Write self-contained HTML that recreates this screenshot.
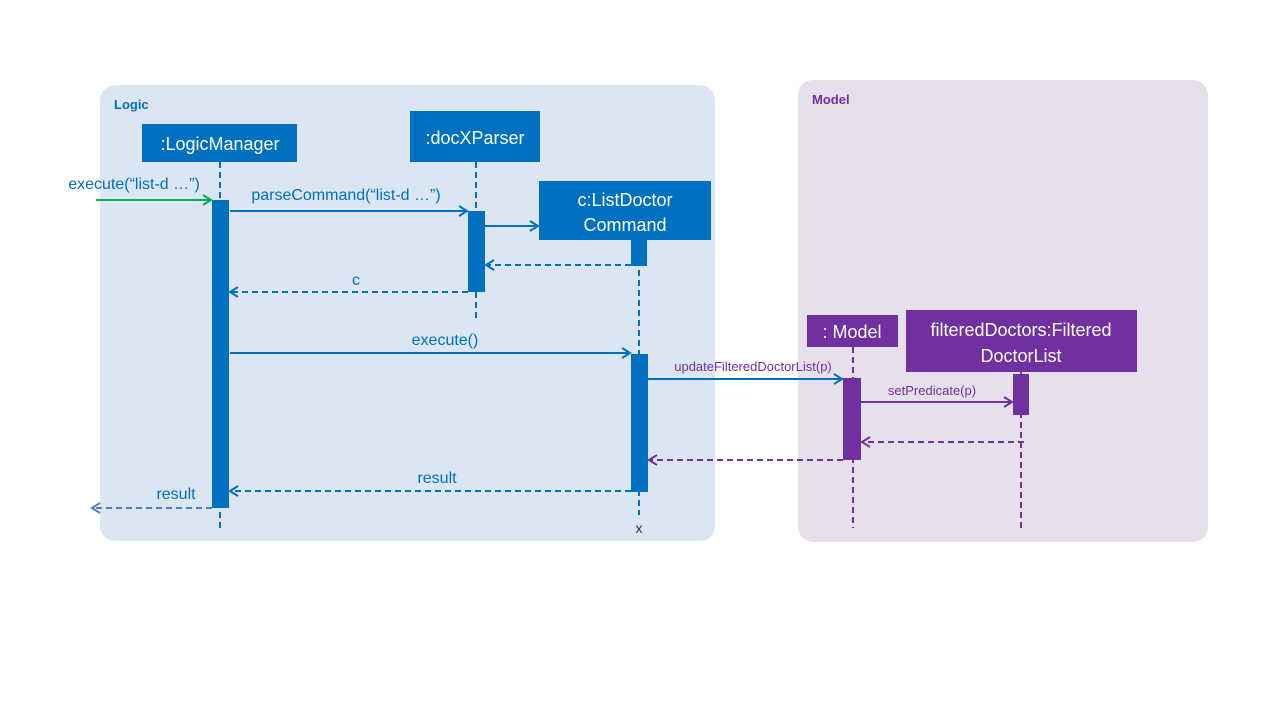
<!DOCTYPE html>
<html><head><meta charset="utf-8"><style>
html,body{margin:0;padding:0;background:#fff;}
svg{display:block;font-family:"Liberation Sans","DejaVu Sans",sans-serif;}
</style></head><body>
<svg width="1280" height="720" viewBox="0 0 1280 720">
<defs>
<marker id="ab" markerWidth="12" markerHeight="12" refX="10" refY="6" orient="auto" markerUnits="userSpaceOnUse"><path d="M2,1 L10,6 L2,11" fill="none" stroke="#0070c0" stroke-width="2"/></marker>
<marker id="ag" markerWidth="12" markerHeight="12" refX="10" refY="6" orient="auto" markerUnits="userSpaceOnUse"><path d="M2,1 L10,6 L2,11" fill="none" stroke="#00b050" stroke-width="2"/></marker>
<marker id="ap" markerWidth="12" markerHeight="12" refX="10" refY="6" orient="auto" markerUnits="userSpaceOnUse"><path d="M2,1 L10,6 L2,11" fill="none" stroke="#7030a0" stroke-width="2"/></marker>
<marker id="as" markerWidth="12" markerHeight="12" refX="10" refY="6" orient="auto" markerUnits="userSpaceOnUse"><path d="M2,1 L10,6 L2,11" fill="none" stroke="#4f7fc0" stroke-width="2"/></marker>
</defs>
<rect x="100" y="85" width="615" height="456" rx="15" fill="#dce6f2"/>
<rect x="798" y="80" width="410" height="462" rx="15" fill="#e6e0ec"/>
<text x="114" y="109" font-size="13" font-weight="bold" fill="#0070c0">Logic</text>
<text x="812" y="104" font-size="13" font-weight="bold" fill="#7030a0">Model</text>

<g stroke-dasharray="6,4" stroke-width="2" fill="none">
<line x1="220" y1="162" x2="220" y2="528" stroke="#0070c0"/>
<line x1="476" y1="162" x2="476" y2="318" stroke="#0070c0"/>
<line x1="639" y1="240" x2="639" y2="515" stroke="#0070c0"/>
<line x1="853" y1="347" x2="853" y2="528" stroke="#7030a0"/>
<line x1="1021" y1="372" x2="1021" y2="530" stroke="#7030a0"/>
</g>

<rect x="142" y="124" width="155" height="38" fill="#0070c0"/>
<text x="220" y="150" font-size="18" fill="#fff" text-anchor="middle">:LogicManager</text>
<rect x="410" y="111" width="130" height="51" fill="#0070c0"/>
<text x="475" y="144" font-size="18" fill="#fff" text-anchor="middle">:docXParser</text>
<rect x="539" y="181" width="172" height="59" fill="#0070c0"/>
<text x="625" y="206" font-size="18" fill="#fff" text-anchor="middle">c:ListDoctor</text>
<text x="625" y="231" font-size="18" fill="#fff" text-anchor="middle">Command</text>
<rect x="807" y="315" width="91" height="32" fill="#7030a0"/>
<text x="852" y="338" font-size="18" fill="#fff" text-anchor="middle">: Model</text>
<rect x="906" y="310" width="231" height="62" fill="#7030a0"/>
<text x="1021" y="336" font-size="18" fill="#fff" text-anchor="middle">filteredDoctors:Filtered</text>
<text x="1021" y="362" font-size="18" fill="#fff" text-anchor="middle">DoctorList</text>

<rect x="212" y="200" width="17" height="308" fill="#0070c0"/>
<rect x="468" y="211" width="17" height="81" fill="#0070c0"/>
<rect x="631" y="240" width="16" height="26" fill="#0070c0"/>
<rect x="631" y="354" width="17" height="138" fill="#0070c0"/>
<rect x="843" y="378" width="18" height="82" fill="#7030a0"/>
<rect x="1013" y="374" width="16" height="41" fill="#7030a0"/>

<g stroke-width="2" fill="none">
<line x1="96" y1="200" x2="211" y2="200" stroke="#00b050" marker-end="url(#ag)"/>
<line x1="230" y1="211" x2="467" y2="211" stroke="#0070c0" marker-end="url(#ab)"/>
<line x1="485" y1="226" x2="538" y2="226" stroke="#0070c0" marker-end="url(#ab)"/>
<line x1="631" y1="265" x2="486" y2="265" stroke="#0070c0" stroke-dasharray="6,4" marker-end="url(#ab)"/>
<line x1="468" y1="292" x2="230" y2="292" stroke="#0070c0" stroke-dasharray="6,4" marker-end="url(#ab)"/>
<line x1="230" y1="353" x2="630" y2="353" stroke="#0070c0" marker-end="url(#ab)"/>
<line x1="648" y1="379" x2="842" y2="379" stroke="#0070c0" marker-end="url(#ab)"/>
<line x1="861" y1="402" x2="1012" y2="402" stroke="#7030a0" marker-end="url(#ap)"/>
<line x1="1024" y1="442" x2="862" y2="442" stroke="#7030a0" stroke-dasharray="6,4" marker-end="url(#ap)"/>
<line x1="843" y1="460" x2="649" y2="460" stroke="#7030a0" stroke-dasharray="6,4" marker-end="url(#ap)"/>
<line x1="631" y1="491" x2="230" y2="491" stroke="#0070c0" stroke-dasharray="6,4" marker-end="url(#ab)"/>
<line x1="212" y1="508" x2="92" y2="508" stroke="#4f7fc0" stroke-dasharray="6,4" marker-end="url(#as)"/>
</g>

<g font-size="16" fill="#0070c0" text-anchor="middle">
<text x="134" y="189">execute(“list-d …”)</text>
<text x="346" y="200">parseCommand(“list-d …”)</text>
<text x="356" y="285">c</text>
<text x="445" y="345">execute()</text>
<text x="437" y="483">result</text>
<text x="176" y="499">result</text>
<text x="639" y="533" font-size="14" fill="#1f3864">x</text>
</g>
<g font-size="13" fill="#7030a0" text-anchor="middle">
<text x="753" y="371">updateFilteredDoctorList(p)</text>
<text x="932" y="395">setPredicate(p)</text>
</g>
</svg>
</body></html>
